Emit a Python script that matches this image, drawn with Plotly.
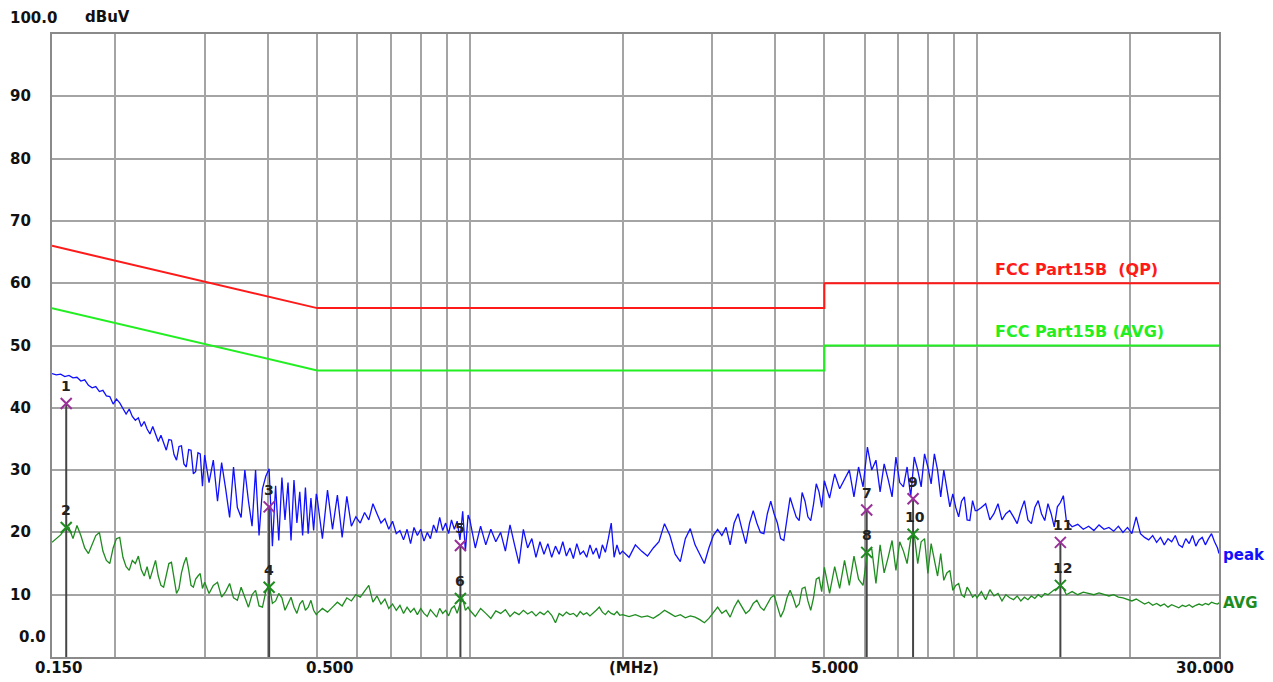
import numpy as np
import plotly.graph_objects as go

# ---------------- data ----------------
freq_mhz = [
    0.150, 0.153, 0.156, 0.159, 0.162, 0.165, 0.168, 0.171, 0.174, 0.177,
    0.180, 0.183, 0.186, 0.189, 0.192, 0.195, 0.198, 0.201, 0.204, 0.207,
    0.210, 0.213, 0.216, 0.219, 0.222, 0.225, 0.228, 0.231, 0.234, 0.237,
    0.240, 0.243, 0.246, 0.249, 0.252, 0.255, 0.258, 0.261, 0.264, 0.267,
    0.270, 0.273, 0.276, 0.279, 0.282, 0.285, 0.288, 0.291, 0.294, 0.297,
    0.300, 0.306, 0.312, 0.318, 0.324, 0.330, 0.336, 0.342, 0.348, 0.354,
    0.360, 0.366, 0.372, 0.378, 0.384, 0.390, 0.396, 0.402, 0.408, 0.414,
    0.420, 0.426, 0.432, 0.438, 0.444, 0.450, 0.456, 0.462, 0.468, 0.474,
    0.480, 0.486, 0.492, 0.498,
    0.500, 0.512, 0.524, 0.536, 0.548, 0.560, 0.572, 0.584, 0.596, 0.608,
    0.620, 0.632, 0.644, 0.656, 0.668, 0.680, 0.692, 0.704, 0.716, 0.728,
    0.740, 0.752, 0.764, 0.776, 0.788, 0.800, 0.812, 0.824, 0.836, 0.848,
    0.860, 0.872, 0.884, 0.896, 0.908, 0.920, 0.932, 0.944, 0.956, 0.968,
    0.980, 0.992,
    1.000, 1.025, 1.050, 1.075, 1.100, 1.125, 1.150, 1.175, 1.200, 1.225,
    1.250, 1.275, 1.300, 1.325, 1.350, 1.375, 1.400, 1.425, 1.450, 1.475,
    1.500, 1.525, 1.550, 1.575, 1.600, 1.625, 1.650, 1.675, 1.700, 1.725,
    1.750, 1.775, 1.800, 1.825, 1.850, 1.875, 1.900, 1.925, 1.950, 1.975,
    2.00, 2.06, 2.12, 2.18, 2.24, 2.30, 2.36, 2.42, 2.48, 2.54,
    2.60, 2.66, 2.72, 2.78, 2.84, 2.90, 2.96, 3.02, 3.08, 3.14,
    3.20, 3.26, 3.32, 3.38, 3.44, 3.50, 3.56, 3.62, 3.68, 3.74,
    3.80, 3.86, 3.92, 3.98, 4.04, 4.10, 4.16, 4.22, 4.28, 4.34,
    4.40, 4.46, 4.52, 4.58, 4.64, 4.70, 4.76, 4.82, 4.88, 4.94,
    5.00, 5.12, 5.24, 5.36, 5.48, 5.60, 5.72, 5.84, 5.96, 6.08,
    6.20, 6.32, 6.44, 6.56, 6.68, 6.80, 6.92, 7.04, 7.16, 7.28,
    7.40, 7.52, 7.64, 7.76, 7.88, 8.00, 8.12, 8.24, 8.36, 8.48,
    8.60, 8.72, 8.84, 8.96, 9.08, 9.20, 9.32, 9.44, 9.56, 9.68,
    9.80, 9.92,
    10.0, 10.2, 10.4, 10.6, 10.8, 11.0, 11.2, 11.4, 11.6, 11.8,
    12.0, 12.2, 12.4, 12.6, 12.8, 13.0, 13.2, 13.4, 13.6, 13.8,
    14.0, 14.2, 14.4, 14.6, 14.8,
    15.0, 15.4, 15.8, 16.2, 16.6, 17.0, 17.4, 17.8, 18.2, 18.6,
    19.0, 19.4, 19.8, 20.2, 20.6, 21.0, 21.4, 21.8, 22.2, 22.6,
    23.0, 23.4, 23.8, 24.2, 24.6, 25.0, 25.4, 25.8, 26.2, 26.6,
    27.0, 27.4, 27.8, 28.2, 28.6, 29.0, 29.4, 29.8, 30.0,
]

peak_dbuv = [
    45.5, 45.3, 45.4, 45.0, 45.2, 44.8, 44.9, 44.3, 44.5, 43.6,
    43.2, 43.4, 42.6, 42.8, 41.9, 41.8, 40.6, 41.4, 40.8, 39.8,
    39.0, 39.8, 38.6, 38.0, 38.4, 37.0, 37.8, 36.6, 35.8, 37.0,
    35.9, 34.6, 35.6, 34.2, 33.2, 34.9, 34.8, 32.5, 31.6, 33.8,
    33.9, 31.0, 30.5, 33.3, 33.2, 29.4, 29.8, 32.8, 32.6, 27.4,
    32.4, 28.0, 31.6, 25.0, 31.2, 27.0, 22.4, 30.5, 24.0, 22.4,
    30.0, 25.0, 21.0, 30.0, 19.5, 27.0, 29.0, 30.2, 17.8, 27.5,
    18.7, 28.8, 22.0, 28.0, 18.7, 28.4, 21.5, 26.5, 19.5, 27.2,
    19.8, 25.5, 20.3, 26.2,
    25.5, 19.0, 26.8, 20.5, 26.0, 19.2, 25.8, 21.0, 22.5, 21.5,
    23.2, 22.0, 24.6, 23.0, 21.5, 22.2, 20.5, 21.8, 19.8, 20.3,
    18.8, 20.5, 18.2, 20.8, 19.5, 20.5, 18.6, 20.0, 19.0, 21.2,
    20.0, 22.4, 20.3, 21.5, 19.8, 22.0, 20.5, 21.8, 18.8, 23.4,
    17.0, 22.8,
    22.0, 17.5, 21.0, 18.0, 20.5, 18.5, 20.0, 17.0, 21.2, 18.0,
    15.0, 20.5, 17.5, 19.0, 16.0, 18.5, 16.5, 18.2, 16.0, 17.8,
    16.5, 18.5, 16.2, 17.5, 15.8, 18.2, 16.5, 17.0, 16.0, 18.0,
    16.5, 17.5, 15.8, 18.0, 16.8, 19.0, 21.5, 16.0, 18.0, 16.5,
    17.0, 16.0, 18.0, 17.0, 16.2, 17.5, 18.5, 21.4, 19.5, 16.5,
    15.3, 19.0, 20.6, 18.0, 16.5, 15.0, 17.5, 19.5, 20.5, 19.5,
    20.8, 18.0, 21.5, 23.0, 20.5, 18.2, 21.5, 23.5, 21.5, 20.0,
    19.8, 23.0, 25.0, 23.0, 21.5, 19.0, 18.7, 22.5, 25.6, 24.0,
    22.5, 21.9, 26.4, 25.0, 22.5, 21.9, 24.5, 27.8, 26.5, 24.0,
    28.3, 25.5, 29.4, 27.0, 28.5, 30.0, 25.7, 30.5, 27.3, 33.7,
    30.0, 31.6, 26.5, 31.0, 28.5, 25.7, 32.1, 28.0, 27.3, 30.5,
    25.7, 32.1, 30.0, 27.3, 32.6, 30.5, 27.8, 32.6, 30.0, 25.7,
    30.0, 27.0, 24.1, 26.2, 24.0, 22.5, 25.0, 25.7, 22.0, 21.9,
    25.1, 23.5,
    23.5, 24.0, 24.6, 22.0, 23.0, 24.6, 22.0, 23.0, 23.5, 22.5,
    21.4, 23.5, 25.1, 22.0, 21.4, 24.0, 25.1, 23.0, 21.9, 24.6,
    23.0, 20.9, 24.1, 24.8, 25.9,
    21.9, 20.9, 21.3, 20.5, 21.0, 20.3, 21.2, 20.5, 20.8, 20.2,
    21.0, 20.0, 20.8, 19.8, 22.5, 19.8, 19.2, 18.8, 19.5, 18.4,
    19.2, 18.0, 19.0, 18.5, 19.5, 18.0, 17.6, 19.0, 18.2, 19.5,
    17.8, 18.8, 19.2, 18.0, 19.0, 19.8, 18.5, 17.5, 16.6,
]

avg_dbuv = [
    18.4, 19.0, 19.6, 20.5, 20.8, 19.0, 21.1, 19.5, 17.5, 16.6,
    18.0, 19.5, 20.0, 17.0, 15.5, 15.0, 17.5, 19.0, 19.2, 16.0,
    14.5, 13.9, 15.5, 15.0, 16.2, 14.0, 13.0, 14.5, 12.5, 14.0,
    15.5, 13.0, 11.5, 11.2, 13.0, 15.0, 15.2, 12.5, 10.2, 11.0,
    13.5, 15.0, 16.0, 14.0, 11.5, 11.2, 12.5, 13.0, 13.4, 11.0,
    12.0, 10.2, 11.5, 12.0, 9.6, 10.5, 11.8, 9.5, 9.1, 11.2,
    9.5, 8.0, 10.0, 10.7, 8.2, 8.0, 10.5, 11.8, 8.6, 9.0,
    10.2, 9.5, 7.5, 8.5, 9.6, 8.0, 7.0, 8.5, 9.1, 7.5,
    8.0, 9.1, 7.5, 6.8,
    7.0, 7.8, 7.2, 8.0, 8.8, 8.2, 9.5, 9.0, 10.0, 9.6,
    10.5, 11.5, 8.8, 9.8, 8.5, 9.3, 7.8, 8.5, 7.5, 8.3,
    7.0, 8.0, 7.2, 7.8, 6.8, 7.8, 7.0, 6.5, 7.6, 7.0,
    6.4, 7.8, 7.0, 7.5, 6.6, 7.8, 8.2, 7.0, 8.5, 9.4,
    7.5, 8.0,
    7.5, 6.5, 7.8, 7.0, 6.2, 7.4, 7.0, 7.6, 6.5, 7.2,
    6.8, 7.5, 6.9, 7.3, 6.6, 7.2, 6.8, 7.4, 6.7, 5.5,
    7.0, 6.6, 7.2, 6.8, 7.0, 6.5, 7.3, 6.8, 7.1, 6.6,
    7.0, 7.5, 8.0, 7.2, 6.8, 7.4, 7.0, 6.8, 7.3, 6.7,
    6.8, 6.5, 6.8, 6.4, 6.6, 6.2, 6.8, 7.5, 7.0, 6.5,
    6.8, 6.3, 6.6, 6.4, 6.0, 5.5, 6.2, 7.2, 8.0, 7.0,
    7.5, 6.4, 8.0, 9.1, 8.0, 7.0, 7.5, 8.6, 9.1, 8.0,
    7.5, 8.5, 9.5, 9.9, 8.0, 6.4, 7.5, 9.5, 10.7, 9.5,
    8.0, 8.5, 11.0, 11.2, 9.0, 7.5, 9.5, 12.5, 12.8, 10.5,
    14.4, 10.2, 14.5, 11.0, 15.5, 11.5, 16.2, 12.5, 11.5, 16.8,
    17.4, 11.8, 18.0, 13.5, 16.0, 18.7, 13.9, 18.5, 17.0, 15.0,
    19.0, 19.7, 15.0, 18.5, 19.0, 13.4, 18.2, 15.5, 13.0, 16.6,
    12.3, 13.5, 13.9, 10.7, 11.5, 11.8, 10.0, 9.6, 11.2, 10.5,
    9.6, 10.0,
    9.5, 10.5, 9.2, 10.8, 9.8, 10.2, 9.0, 10.0, 9.5, 9.2,
    9.8, 9.0, 9.6, 9.2, 9.8, 9.4, 10.0, 9.6, 10.2, 10.0,
    10.4, 10.8, 11.0, 11.5, 11.0,
    10.0, 10.5, 10.0, 10.4, 10.2, 10.0, 10.3, 10.0, 9.8, 10.0,
    9.6, 9.5, 9.3, 9.0, 9.3, 8.9, 8.5, 8.8, 8.3, 8.6,
    8.2, 8.5, 8.0, 8.4, 8.2, 7.9, 8.3, 8.1, 8.4, 8.0,
    8.3, 8.5, 8.3, 8.6, 8.4, 8.8, 8.6, 8.5, 8.7,
]

qp_limit_freq = [0.15, 0.5, 5.0, 5.0, 30.0]
qp_limit_dbuv = [66, 56, 56, 60, 60]
avg_limit_freq = [0.15, 0.5, 5.0, 5.0, 30.0]
avg_limit_dbuv = [56, 46, 46, 50, 50]

marker_ids = ["1", "2", "3", "4", "5", "6", "7", "8", "9", "10", "11", "12"]
marker_freq = [0.160, 0.160, 0.402, 0.402, 0.958, 0.958, 6.06, 6.06, 7.48, 7.48, 14.6, 14.6]
marker_dbuv = [40.7, 20.8, 24.1, 11.2, 17.9, 9.4, 23.6, 16.8, 25.4, 19.7, 18.4, 11.5]

grid_freqs = [0.2, 0.3, 0.4, 0.5, 0.6, 0.7, 0.8, 0.9, 1, 2, 3, 4, 5, 6, 7, 8, 9, 10, 20]
y_ticks = [10, 20, 30, 40, 50, 60, 70, 80, 90]
x_label_freqs = [0.15, 0.5, 5.0, 30.0]
x_label_text = ["0.150", "0.500", "5.000", "30.000"]

assert len(freq_mhz) == len(peak_dbuv) == len(avg_dbuv), (len(freq_mhz), len(peak_dbuv), len(avg_dbuv))

FONT = "DejaVu Sans"
fig = go.Figure()

fig.add_trace(go.Scatter(x=qp_limit_freq, y=qp_limit_dbuv, mode="lines",
                         line=dict(color="#ff1a1a", width=2), hoverinfo="skip"))
fig.add_trace(go.Scatter(x=avg_limit_freq, y=avg_limit_dbuv, mode="lines",
                         line=dict(color="#22ee22", width=2), hoverinfo="skip"))

# vertical marker lines (from peak marker down to axis)
for i in range(0, len(marker_freq), 2):
    fig.add_trace(go.Scatter(x=[marker_freq[i], marker_freq[i]], y=[0, marker_dbuv[i]],
                             mode="lines", line=dict(color="#454545", width=2), hoverinfo="skip"))

fig.add_trace(go.Scatter(x=freq_mhz, y=peak_dbuv, mode="lines",
                         line=dict(color="#1010ff", width=1.3), hoverinfo="skip"))
fig.add_trace(go.Scatter(x=freq_mhz, y=avg_dbuv, mode="lines",
                         line=dict(color="#1e8c1e", width=1.3), hoverinfo="skip"))

fig.add_trace(go.Scatter(x=marker_freq[0::2], y=marker_dbuv[0::2], mode="markers",
                         marker=dict(symbol="x-thin", size=11, line=dict(color="#9a2f9a", width=2)),
                         hoverinfo="skip"))
fig.add_trace(go.Scatter(x=marker_freq[1::2], y=marker_dbuv[1::2], mode="markers",
                         marker=dict(symbol="x-thin", size=11, line=dict(color="#1e8c1e", width=2)),
                         hoverinfo="skip"))

ann = []
# y tick labels
for v in y_ticks:
    ann.append(dict(xref="paper", yref="y", x=0, y=v, xshift=-44, xanchor="left", yanchor="middle",
                    text=f"<b>{v}</b>", showarrow=False, font=dict(family=FONT, size=15, color="#111")))
ann.append(dict(xref="paper", yref="y", x=0, y=100, xshift=-44, yshift=16, xanchor="left", yanchor="middle",
                text="<b>100.0</b>", showarrow=False, font=dict(family=FONT, size=15, color="#111")))
ann.append(dict(xref="paper", yref="y", x=0, y=100, xshift=31, yshift=17, xanchor="left", yanchor="middle",
                text="<b>dBuV</b>", showarrow=False, font=dict(family=FONT, size=15, color="#111")))
ann.append(dict(xref="paper", yref="y", x=0, y=0, xshift=-35, yshift=20, xanchor="left", yanchor="middle",
                text="<b>0.0</b>", showarrow=False, font=dict(family=FONT, size=15, color="#111")))
# x tick labels
x_shifts = [6, 12, 10, -14]
for f, t, s in zip(x_label_freqs, x_label_text, x_shifts):
    ann.append(dict(xref="x", yref="paper", x=np.log10(f), y=0, xshift=s, yshift=-11,
                    xanchor="center", yanchor="middle", text=f"<b>{t}</b>", showarrow=False,
                    font=dict(family=FONT, size=15, color="#111")))
ann.append(dict(xref="paper", yref="paper", x=0.5, y=0, xshift=-2, yshift=-11, xanchor="center",
                yanchor="middle", text="<b>(MHz)</b>", showarrow=False,
                font=dict(family=FONT, size=15, color="#111")))
# limit labels
ann.append(dict(xref="paper", yref="y", x=0.806, y=60, yshift=14, xanchor="left", yanchor="middle",
                text="<b>FCC Part15B\u00a0 (QP)</b>", showarrow=False,
                font=dict(family=FONT, size=16, color="#ff1a1a")))
ann.append(dict(xref="paper", yref="y", x=0.806, y=50, yshift=14, xanchor="left", yanchor="middle",
                text="<b>FCC Part15B (AVG)</b>", showarrow=False,
                font=dict(family=FONT, size=16, color="#22ee22")))
# trace labels
ann.append(dict(xref="paper", yref="paper", x=1, y=0.1637, xshift=2, xanchor="left", yanchor="middle",
                text="<b>peak</b>", showarrow=False, font=dict(family=FONT, size=15, color="#1010ff")))
ann.append(dict(xref="paper", yref="paper", x=1, y=0.0859, xshift=2, xanchor="left", yanchor="middle",
                text="<b>AVG</b>", showarrow=False, font=dict(family=FONT, size=15, color="#1e8c1e")))
# marker numbers
for mid, f, v in zip(marker_ids, marker_freq, marker_dbuv):
    ann.append(dict(xref="x", yref="y", x=np.log10(f), y=v, yshift=17, xshift=2 if len(mid) > 1 else 0,
                    xanchor="center", yanchor="middle", text=f"<b>{mid}</b>", showarrow=False,
                    font=dict(family=FONT, size=14, color="#222")))

fig.update_layout(
    width=1273, height=682,
    margin=dict(l=52, r=54, t=34, b=25),
    paper_bgcolor="white", plot_bgcolor="white",
    showlegend=False,
    annotations=ann,
    xaxis=dict(type="log", range=[np.log10(0.15), np.log10(30)], tickvals=grid_freqs,
               showticklabels=False, ticks="", showgrid=True, gridcolor="#a4a4a4", gridwidth=1.6,
               showline=True, linecolor="#8a8a8a", linewidth=2, mirror=True, zeroline=False),
    yaxis=dict(range=[0, 100], tickvals=y_ticks, showticklabels=False, ticks="",
               showgrid=True, gridcolor="#a4a4a4", gridwidth=1.6,
               showline=True, linecolor="#8a8a8a", linewidth=2, mirror=True, zeroline=False),
)

fig.write_html("out.html")
